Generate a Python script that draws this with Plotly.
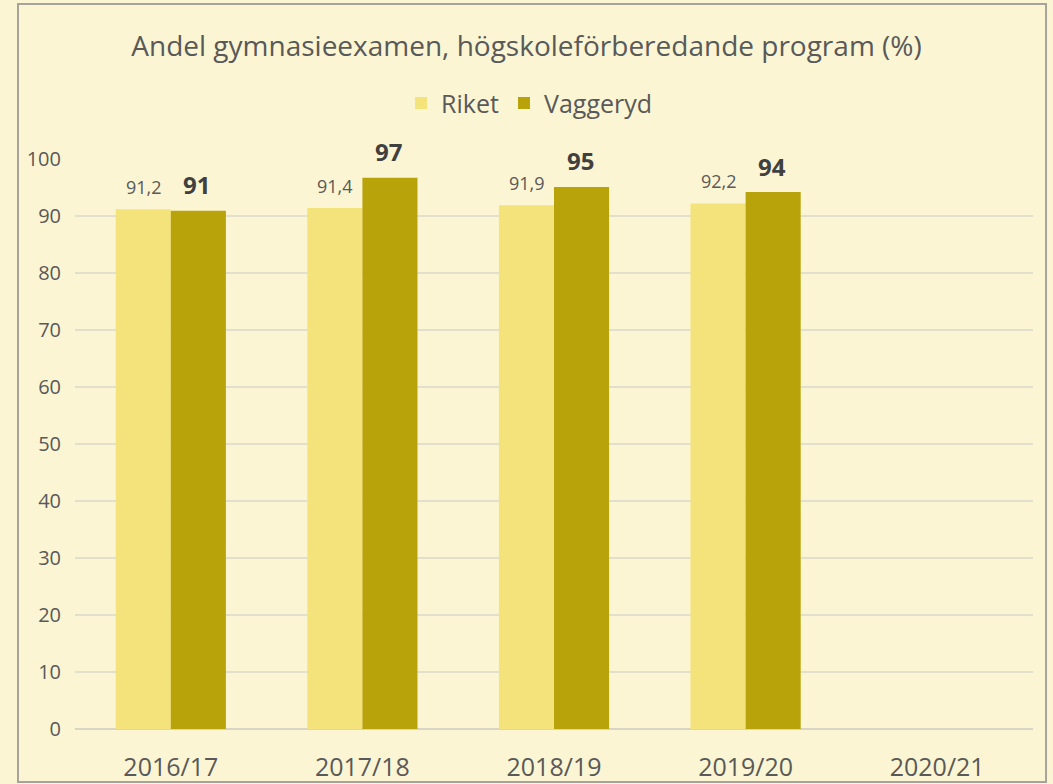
import plotly.graph_objects as go

# Données
annees = ["2016/17", "2017/18", "2018/19", "2019/20", "2020/21"]
riket = [91.2, 91.4, 91.9, 92.2, None]
vaggeryd = [90.9, 96.7, 95.1, 94.2, None]
riket_txt = ["91,2", "91,4", "91,9", "92,2", ""]
vaggeryd_txt = ["91", "97", "95", "94", ""]
y_ticks = [0, 10, 20, 30, 40, 50, 60, 70, 80, 90, 100]

font_fam = "Open Sans, sans-serif"
grey_txt = "#595959"
bg = "#fcf5d3"

fig = go.Figure()
fig.add_trace(go.Bar(
    x=annees, y=riket, name="Riket",
    marker=dict(color="#f4e37a", line=dict(width=0)),
))
fig.add_trace(go.Bar(
    x=annees, y=vaggeryd, name="Vaggeryd",
    marker=dict(color="#b9a30b", line=dict(width=0)),
))

# étiquettes de valeurs au-dessus des barres
for a, v, t in zip(annees, riket, riket_txt):
    if v is None:
        continue
    fig.add_annotation(x=a, y=v, text=t, showarrow=False, xshift=-27, yshift=22,
                       font=dict(size=18, color=grey_txt, family=font_fam))
for a, v, t in zip(annees, vaggeryd, vaggeryd_txt):
    if v is None:
        continue
    fig.add_annotation(x=a, y=v, text="<b>" + t + "</b>", showarrow=False, xshift=26, yshift=26,
                       font=dict(size=24, color="#404040", family=font_fam))

# cadre gris autour du graphique
fig.add_shape(type="rect", xref="paper", yref="paper",
              x0=-0.0595, x1=1.0136, y0=-0.093, y1=1.272,
              line=dict(color="#a6a39a", width=2), fillcolor="rgba(0,0,0,0)")

fig.update_layout(
    width=1053, height=784,
    paper_bgcolor=bg, plot_bgcolor=bg,
    margin=dict(l=75, r=20, t=159, b=55, autoexpand=False),
    barmode="group", bargap=0.425, bargroupgap=0,
    font=dict(family=font_fam, color=grey_txt),
    title=dict(text="Andel gymnasieexamen, högskoleförberedande program (%)",
               x=0.5, xanchor="center", y=1 - 46 / 784, yanchor="middle",
               font=dict(size=28, color=grey_txt, family=font_fam)),
    legend=dict(orientation="h", x=0.474, xanchor="center", y=1.098, yanchor="middle",
                font=dict(size=25, color=grey_txt, family=font_fam),
                bgcolor="rgba(0,0,0,0)", itemwidth=30),
    showlegend=True,
)
fig.update_yaxes(range=[0, 100], tickvals=y_ticks, showgrid=True, automargin=False,
                 gridcolor="#e3dfcd", gridwidth=1.5, zeroline=True,
                 zerolinecolor="#d9d5c4", zerolinewidth=1.5, showline=False,
                 tickfont=dict(size=20, color=grey_txt, family=font_fam),
                 ticklabelstandoff=13)
fig.update_xaxes(showline=False, showgrid=False, ticks="", automargin=False,
                 tickfont=dict(size=25, color=grey_txt, family=font_fam),
                 ticklabelstandoff=21)

# page sans marge pour que la figure remplisse la fenêtre
fig.write_html("out.html", config={"displayModeBar": False},
               post_script="document.body.style.margin='0';"
                           "document.body.style.background='" + bg + "';"
                           "document.body.style.overflow='hidden';")
